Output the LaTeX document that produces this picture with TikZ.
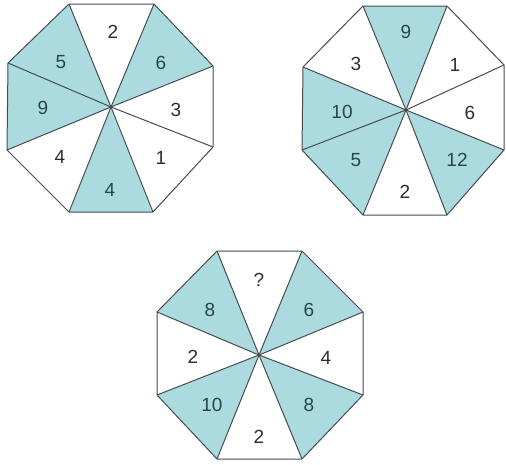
\documentclass[tikz,border=0pt]{standalone}
\usepackage{fontspec}
\setsansfont{Liberation Sans}
\definecolor{seg}{RGB}{172,219,223}
\definecolor{edge}{RGB}{70,76,80}
\definecolor{numb}{RGB}{38,70,76}
\definecolor{numw}{RGB}{45,45,45}
\begin{document}
\begin{tikzpicture}[x=1pt,y=-1pt,line join=round,
  spoke/.style={draw=edge,line width=1pt},
  blue/.style={fill=seg},
  lab/.style={font=\sffamily\fontsize{19}{19}\selectfont,text=numw,inner sep=0pt},
  labb/.style={lab,text=numb}]
\useasboundingbox (0,0) rectangle (506,464);
% ---------- octagon 1 ----------
\coordinate (a0) at (111,107);
\coordinate (a1) at (69,4);   \coordinate (a2) at (154,4);
\coordinate (a3) at (213,66); \coordinate (a4) at (213,147);
\coordinate (a5) at (153,212);\coordinate (a6) at (69,212);
\coordinate (a7) at (7,150);  \coordinate (a8) at (8,63);
\fill[blue] (a0)--(a2)--(a3)--cycle;
\fill[blue] (a0)--(a5)--(a6)--cycle;
\fill[blue] (a0)--(a7)--(a8)--(a1)--cycle;
\draw[spoke] (a1)--(a2)--(a3)--(a4)--(a5)--(a6)--(a7)--(a8)--cycle;
\foreach \i in {1,...,8} \draw[spoke] (a0)--(a\i);
\node[lab]  (n1t)  at (113,32)  {2};
\node[labb] (n1tr) at (161,63)  {6};
\node[lab]  (n1r)  at (176,110) {3};
\node[lab]  (n1br) at (161,158) {1};
\node[labb] (n1b)  at (110,190) {4};
\node[lab]  (n1bl) at (60,157)  {4};
\node[labb] (n1l)  at (43,108)  {9};
\node[labb] (n1tl) at (61,62)   {5};
% ---------- octagon 2 ----------
\coordinate (b0) at (406,110);
\coordinate (b1) at (363,6);   \coordinate (b2) at (447,6);
\coordinate (b3) at (504,65);  \coordinate (b4) at (504,150);
\coordinate (b5) at (447,215); \coordinate (b6) at (363,215);
\coordinate (b7) at (302,150); \coordinate (b8) at (303,67);
\fill[blue] (b0)--(b1)--(b2)--cycle;
\fill[blue] (b0)--(b4)--(b5)--cycle;
\fill[blue] (b0)--(b6)--(b7)--(b8)--cycle;
\draw[spoke] (b1)--(b2)--(b3)--(b4)--(b5)--(b6)--(b7)--(b8)--cycle;
\foreach \i in {1,...,8} \draw[spoke] (b0)--(b\i);
\node[labb] (n2t)  at (406,32)  {9};
\node[lab]  (n2tr) at (455,65)  {1};
\node[lab]  (n2r)  at (470,113) {6};
\node[labb] (n2br) at (457,160) {12};
\node[lab]  (n2b)  at (405,192) {2};
\node[labb] (n2bl) at (356,160) {5};
\node[labb] (n2l)  at (342,112) {10};
\node[lab]  (n2tl) at (356,64)  {3};
% ---------- octagon 3 ----------
\coordinate (c0) at (259,355);
\coordinate (c1) at (217,251); \coordinate (c2) at (302,251);
\coordinate (c3) at (363,312); \coordinate (c4) at (363,395);
\coordinate (c5) at (302,459); \coordinate (c6) at (217,459);
\coordinate (c7) at (157,395); \coordinate (c8) at (157,312);
\fill[blue] (c0)--(c2)--(c3)--cycle;
\fill[blue] (c0)--(c4)--(c5)--cycle;
\fill[blue] (c0)--(c6)--(c7)--cycle;
\fill[blue] (c0)--(c8)--(c1)--cycle;
\draw[spoke] (c1)--(c2)--(c3)--(c4)--(c5)--(c6)--(c7)--(c8)--cycle;
\foreach \i in {1,...,8} \draw[spoke] (c0)--(c\i);
\node[lab]  (n3t)  at (259,280) {?};
\node[labb] (n3tr) at (309,310) {6};
\node[lab]  (n3r)  at (326,358) {4};
\node[labb] (n3br) at (309,405) {8};
\node[lab]  (n3b)  at (259,437) {2};
\node[labb] (n3bl) at (212,405) {10};
\node[lab]  (n3l)  at (193,357) {2};
\node[labb] (n3tl) at (210,310) {8};
\end{tikzpicture}
\end{document}
